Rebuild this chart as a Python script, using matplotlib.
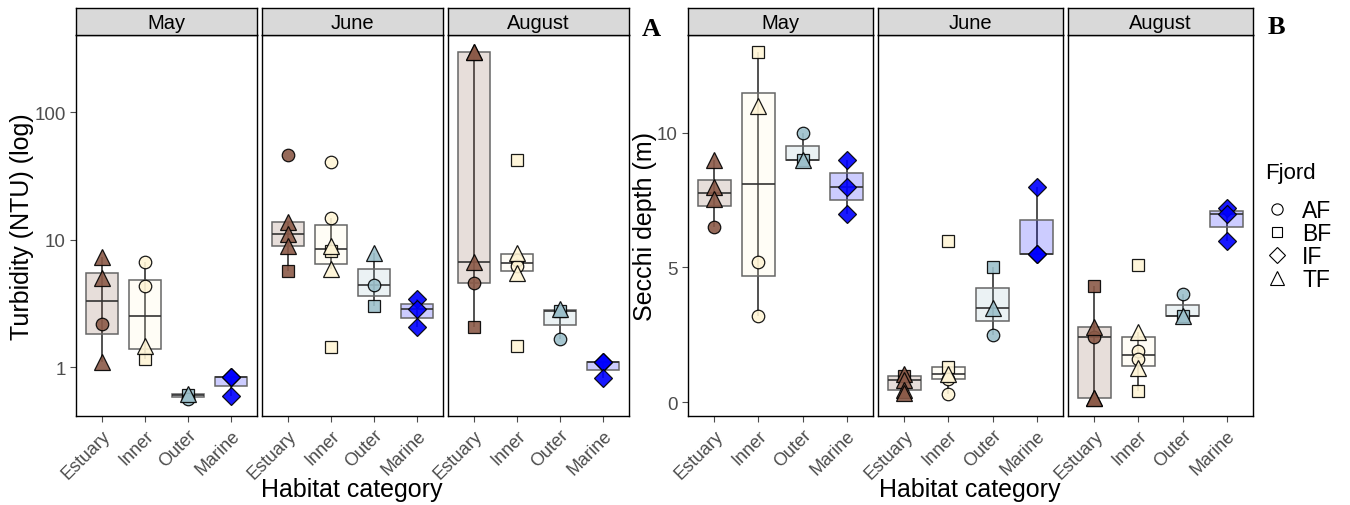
import numpy as np
import matplotlib.pyplot as plt
from matplotlib.lines import Line2D
from matplotlib import cbook

plt.rcParams['font.family'] = ['Liberation Sans', 'DejaVu Sans']

# categories
months = ['May', 'June', 'August']
habitats = ['Estuary', 'Inner', 'Outer', 'Marine']

# Turbidity (NTU), panel A
turb_may_hab = ['Estuary'] * 4 + ['Inner'] * 4 + ['Outer'] * 3 + ['Marine'] * 3
turb_may_fjord = ['TF', 'TF', 'AF', 'TF', 'AF', 'AF', 'TF', 'BF', 'AF', 'BF', 'TF', 'IF', 'IF', 'IF']
turb_may_val = [7.3, 5.0, 2.17, 1.09, 6.7, 4.3, 1.46, 1.16, 0.56, 0.60, 0.62, 0.84, 0.84, 0.59]

turb_jun_hab = ['Estuary'] * 5 + ['Inner'] * 6 + ['Outer'] * 3 + ['Marine'] * 3
turb_jun_fjord = ['AF', 'TF', 'TF', 'TF', 'BF', 'AF', 'AF', 'TF', 'BF', 'TF', 'BF',
                  'TF', 'AF', 'BF', 'IF', 'IF', 'IF']
turb_jun_val = [46, 13.7, 11.0, 8.9, 5.7, 40.5, 14.7, 8.9, 8.1, 5.9, 1.44,
                7.8, 4.4, 3.0, 3.4, 2.85, 2.06]

turb_aug_hab = ['Estuary'] * 5 + ['Inner'] * 6 + ['Outer'] * 3 + ['Marine'] * 3
turb_aug_fjord = ['TF', 'TF', 'TF', 'AF', 'BF', 'BF', 'TF', 'AF', 'AF', 'TF', 'BF',
                  'TF', 'BF', 'AF', 'IF', 'IF', 'IF']
turb_aug_val = [296, 296, 6.7, 4.6, 2.06, 42, 7.9, 6.9, 6.2, 5.5, 1.46,
                2.85, 2.75, 1.66, 1.09, 1.09, 0.82]

# Secchi depth (m), panel B
secchi_may_hab = ['Estuary'] * 4 + ['Inner'] * 4 + ['Outer'] * 3 + ['Marine'] * 3
secchi_may_fjord = ['TF', 'TF', 'TF', 'AF', 'BF', 'TF', 'AF', 'AF', 'AF', 'BF', 'TF', 'IF', 'IF', 'IF']
secchi_may_val = [9.0, 8.0, 7.55, 6.5, 13.0, 11.0, 5.2, 3.2, 10.0, 9.0, 9.0, 9.0, 8.0, 7.0]

secchi_jun_hab = ['Estuary'] * 5 + ['Inner'] * 5 + ['Outer'] * 3 + ['Marine'] * 3
secchi_jun_fjord = ['TF', 'BF', 'TF', 'TF', 'TF', 'BF', 'BF', 'TF', 'AF', 'AF',
                    'BF', 'TF', 'AF', 'IF', 'IF', 'IF']
secchi_jun_val = [1.05, 0.95, 0.8, 0.45, 0.35, 6.0, 1.3, 1.05, 0.85, 0.3,
                  5.0, 3.5, 2.5, 8.0, 5.5, 5.5]

secchi_aug_hab = ['Estuary'] * 5 + ['Inner'] * 6 + ['Outer'] * 3 + ['Marine'] * 3
secchi_aug_fjord = ['BF', 'TF', 'AF', 'TF', 'TF', 'BF', 'TF', 'AF', 'AF', 'TF', 'BF',
                    'AF', 'BF', 'TF', 'IF', 'IF', 'IF']
secchi_aug_val = [4.3, 2.8, 2.4, 0.15, 0.15, 5.1, 2.6, 1.9, 1.6, 1.26, 0.42,
                  4.0, 3.2, 3.2, 7.2, 7.0, 6.0]

hab_colors = {'Estuary': '#8B5A48', 'Inner': '#FFF5D6', 'Outer': '#9CC0CB', 'Marine': '#0000FF'}
fjord_markers = {'AF': ('o', 9), 'BF': ('s', 8.5), 'IF': ('D', 9), 'TF': ('^', 11.5)}

W, H = 1350, 506
fig = plt.figure(figsize=(W / 100, H / 100), dpi=100)


def px_axes(x0, y0, w, h):
    return fig.add_axes([x0 / W, 1 - (y0 + h) / H, w / W, h / H])


def draw_facet(ax, hab, fjord, val, logy):
    hab = np.array(hab)
    fjord = np.array(fjord)
    v = np.array(val, dtype=float)
    if logy:
        v = np.log10(v)
    for i, h in enumerate(habitats):
        d = v[hab == h]
        st = cbook.boxplot_stats(d, whis=1.5)[0]
        x = i + 1
        col = hab_colors[h]
        ax.vlines(x, st['whislo'], st['whishi'], color='#222222', lw=1.1, zorder=1)
        ax.add_patch(plt.Rectangle((x - 0.375, st['q1']), 0.75, st['q3'] - st['q1'],
                                   facecolor=col, alpha=0.2, edgecolor='none', zorder=2))
        ax.add_patch(plt.Rectangle((x - 0.375, st['q1']), 0.75, st['q3'] - st['q1'],
                                   facecolor='none', edgecolor='#666666', lw=1.1, zorder=2))
        ax.hlines(st['med'], x - 0.375, x + 0.375, color='#333333', lw=1.2, zorder=3)
        for f in ['BF', 'AF', 'TF', 'IF']:
            sel = (hab == h) & (fjord == f)
            if sel.any():
                m, ms = fjord_markers[f]
                ax.plot(np.full(sel.sum(), x), v[sel], ls='none', marker=m, ms=ms,
                        mfc=col, mec='black', mew=0.9, alpha=0.9, zorder=4)
    ax.set_xlim(0.4, 4.6)
    ax.set_xticks(range(1, 5))
    ax.set_xticklabels(habitats, rotation=45, ha='right', va='top',
                       rotation_mode='anchor', fontsize=13, color='#4D4D4D')
    ax.tick_params(axis='both', color='#4D4D4D', length=4, width=0.8)
    for s in ax.spines.values():
        s.set_color('black')
        s.set_linewidth(1.0)


def draw_strip(x0, w, label):
    sa = px_axes(x0, 9, w, 27)
    sa.set_facecolor('#D9D9D9')
    sa.set_xticks([])
    sa.set_yticks([])
    for s in sa.spines.values():
        s.set_linewidth(1.0)
    sa.text(0.5, 0.45, label, ha='center', va='center', fontsize=14.5, transform=sa.transAxes)


panel_a = [(turb_may_hab, turb_may_fjord, turb_may_val),
           (turb_jun_hab, turb_jun_fjord, turb_jun_val),
           (turb_aug_hab, turb_aug_fjord, turb_aug_val)]
panel_b = [(secchi_may_hab, secchi_may_fjord, secchi_may_val),
           (secchi_jun_hab, secchi_jun_fjord, secchi_jun_val),
           (secchi_aug_hab, secchi_aug_fjord, secchi_aug_val)]

# panel A
for k, x0 in enumerate([76, 262, 448]):
    ax = px_axes(x0, 36, 181, 381)
    draw_facet(ax, *panel_a[k], logy=True)
    ax.set_ylim(-0.384, 2.604)
    if k == 0:
        ax.set_yticks([0, 1, 2])
        ax.set_yticklabels(['1', '10', '100'], fontsize=13.5, color='#4D4D4D')
        ax.set_ylabel('Turbidity (NTU) (log)', fontsize=18, va='center')
        ax.yaxis.set_label_coords((22 - 76) / 181, 0.5)
    else:
        ax.set_yticks([])
    draw_strip(x0, 181, months[k])

# panel B
for k, x0 in enumerate([688, 878, 1068]):
    ax = px_axes(x0, 36, 185, 381)
    draw_facet(ax, *panel_b[k], logy=False)
    ax.set_ylim(-0.52, 13.64)
    if k == 0:
        ax.set_yticks([0, 5, 10])
        ax.set_yticklabels(['0', '5', '10'], fontsize=13.5, color='#4D4D4D')
        ax.set_ylabel('Secchi depth (m)', fontsize=18, va='center')
        ax.yaxis.set_label_coords((645 - 688) / 185, 0.5)
    else:
        ax.set_yticks([])
    draw_strip(x0, 185, months[k])

fig.text(352 / W, 1 - 490 / H, 'Habitat category', ha='center', va='center', fontsize=18)
fig.text(970 / W, 1 - 490 / H, 'Habitat category', ha='center', va='center', fontsize=18)

fig.text(651 / W, 1 - 30 / H, 'A', ha='center', va='center', fontsize=19,
         fontweight='bold', family='Liberation Serif')
fig.text(1276 / W, 1 - 27 / H, 'B', ha='center', va='center', fontsize=19,
         fontweight='bold', family='Liberation Serif')

# legend
fig.text(1265 / W, 1 - 173 / H, 'Fjord', ha='left', va='center', fontsize=16)
handles = [Line2D([], [], ls='none', marker=fjord_markers[f][0], ms=fjord_markers[f][1] * 0.9,
                  mfc='white', mec='black', mew=0.8) for f in ['AF', 'BF', 'IF', 'TF']]
fig.legend(handles, ['AF', 'BF', 'IF', 'TF'], loc='upper left',
           bbox_to_anchor=(1261 / W, 1 - 195 / H), frameon=False, fontsize=16.5,
           handlelength=1.0, handletextpad=0.6, labelspacing=0.0,
           borderpad=0.2, borderaxespad=0.0)

fig.savefig('out.png', dpi=100)
